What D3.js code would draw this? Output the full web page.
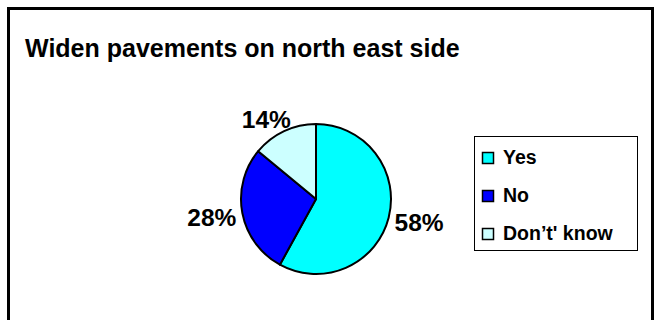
<!DOCTYPE html>
<html>
<head>
<meta charset="utf-8">
<script src="https://cdn.jsdelivr.net/npm/d3@7"></script>
<style>
  html, body { margin: 0; padding: 0; background: #fff; }
  svg { display: block; }
  text { font-family: Arial, "Liberation Sans", sans-serif; font-weight: bold; fill: #000; }
</style>
</head>
<body>
<svg id="chart" width="654" height="320"></svg>
<script>
// Survey answers and their shares (percent)
const categories = ["Yes", "No", "Don\u2019t' know"];
const values = [58, 28, 14];
const colors = ["#00FFFF", "#0000FF", "#CCFFFF"];
const title = "Widen pavements on north east side";

const svg = d3.select("#chart");

// Outer frame
svg.append("rect")
  .attr("x", 8.5).attr("y", 8.5)
  .attr("width", 644).attr("height", 340)
  .attr("fill", "#fff")
  .attr("stroke", "#000")
  .attr("stroke-width", 3);

// Title
svg.append("text")
  .attr("x", 25).attr("y", 57)
  .style("font-size", "25px")
  .text(title);

// Pie
const cx = 316, cy = 199, r = 75;
const g = svg.append("g").attr("transform", `translate(${cx},${cy})`);

const pie = d3.pie().sort(null).value(d => d.value);
const arcs = pie(categories.map((c, i) => ({ name: c, value: values[i], color: colors[i] })));
const arc = d3.arc().innerRadius(0).outerRadius(r);

g.selectAll("path.slice")
  .data(arcs)
  .enter().append("path")
  .attr("class", "slice")
  .attr("d", arc)
  .attr("fill", d => d.data.color)
  .attr("stroke", "#000")
  .attr("stroke-width", 2)
  .attr("stroke-linejoin", "round");

// Percentage labels just outside the rim, box pushed outward along the bisector
const labelFont = 24.5, labelR = r + 6;
const labels = g.selectAll("text.pct")
  .data(arcs)
  .enter().append("text")
  .attr("class", "pct")
  .attr("text-anchor", "middle")
  .style("font-size", labelFont + "px")
  .text(d => d.data.value + "%");

labels.each(function(d) {
  const a = (d.startAngle + d.endAngle) / 2;
  const s = Math.sin(a), c = -Math.cos(a);
  const px = labelR * s, py = labelR * c;
  const w = this.getComputedTextLength();
  const h = labelFont * 0.72;
  // labels near the top/bottom are slid further sideways
  const k = 0.5 + 0.28 * c * c;
  const bx = px + s * w * k;
  const by = py + c * h / 2;
  d3.select(this).attr("x", bx).attr("y", by + h / 2 + 1);
});

// Legend
const legend = svg.append("g");
legend.append("rect")
  .attr("x", 474.5).attr("y", 136.5)
  .attr("width", 163).attr("height", 114)
  .attr("fill", "#fff")
  .attr("stroke", "#000")
  .attr("stroke-width", 1);

const y0 = 164, step = 38;
const items = legend.selectAll("g.item")
  .data(categories)
  .enter().append("g")
  .attr("class", "item")
  .attr("transform", (d, i) => `translate(0,${y0 + i * step})`);

items.append("rect")
  .attr("x", 482.5).attr("y", -11.5)
  .attr("width", 11).attr("height", 11)
  .attr("fill", (d, i) => colors[i])
  .attr("stroke", "#000")
  .attr("stroke-width", 1.5);

items.append("text")
  .attr("x", 503).attr("y", 0)
  .style("font-size", "19.5px")
  .text(d => d);
</script>
</body>
</html>
